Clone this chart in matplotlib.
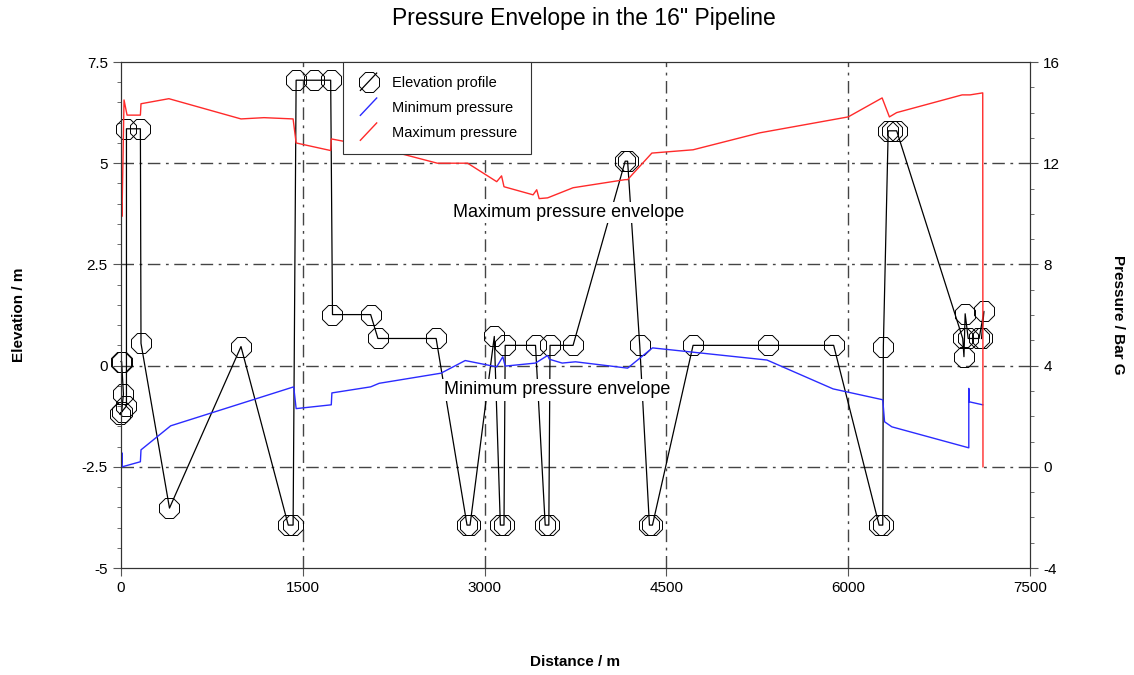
import numpy as np
import matplotlib
matplotlib.use("Agg")
import matplotlib.pyplot as plt
from matplotlib.lines import Line2D
from matplotlib.legend_handler import HandlerLine2D
from matplotlib.ticker import MultipleLocator, FixedLocator

plt.rcParams['font.family'] = ['Liberation Sans', 'DejaVu Sans']
plt.rcParams['axes.unicode_minus'] = False

# ── data ───────────────────────────────────────────────────────────────────
elev_dist = [0, 5, 20, 5, -10, 45, 45, 160, 165, 400, 990, 1380, 1420, 1445,
             1590, 1730, 1745, 2060, 2120, 2600, 2855, 2880, 3080, 3130, 3160,
             3170, 3420, 3500, 3530, 3540, 3730, 4160, 4180, 4280, 4360, 4385,
             4720, 5340, 5880, 6255, 6285, 6290, 6330, 6360, 6400, 6945, 6955,
             6965, 6990, 7080, 7120, 7100]
elev = [0.1, 0.1, -0.7, -1.15, -1.2, -1.0, 5.85, 5.85, 0.55, -3.52, 0.47,
        -3.94, -3.94, 7.05, 7.05, 7.05, 1.26, 1.26, 0.67, 0.67, -3.94, -3.94,
        0.72, -3.94, -3.94, 0.5, 0.5, -3.94, -3.94, 0.5, 0.5, 5.05, 5.05, 0.5,
        -3.94, -3.94, 0.5, 0.5, 0.5, -3.94, -3.94, 0.47, 5.8, 5.8, 5.8, 0.67,
        0.22, 1.28, 0.67, 0.67, 1.34, 0.67]

pmax_dist = [0, 8, 25, 50, 160, 165, 395, 990, 1180, 1420, 1445, 1730, 1735,
             2130, 2610, 2860, 3100, 3140, 3160, 3400, 3430, 3450, 3520, 3730,
             4160, 4180, 4380, 4720, 5270, 6000, 6280, 6340, 6400, 6940, 7005,
             7110, 7112]
pmax = [10.75, 9.9, 14.5, 13.9, 13.9, 14.35, 14.55, 13.75, 13.8, 13.75, 12.8,
        12.5, 12.96, 12.6, 12.0, 12.0, 11.27, 11.5, 11.07, 10.75, 10.95, 10.6,
        10.63, 11.03, 11.35, 11.35, 12.4, 12.53, 13.2, 13.83, 14.58, 13.83,
        14.0, 14.7, 14.7, 14.78, 0.0]

pmin_dist = [0, 8, 10, 160, 165, 410, 1425, 1445, 1735, 1740, 2060, 2130, 2640,
             2840, 3100, 3150, 3170, 3420, 3520, 3535, 3640, 3750, 4180, 4385,
             5330, 5875, 6285, 6300, 6360, 6995, 6995, 6998, 7110]
pmin = [-0.2, 0.55, 0.0, 0.2, 0.67, 1.62, 3.16, 2.3, 2.45, 2.92, 3.16, 3.3,
        3.7, 4.2, 3.95, 4.35, 3.98, 4.1, 4.4, 4.25, 4.1, 4.15, 3.9, 4.7, 4.22,
        3.08, 2.65, 1.78, 1.58, 0.75, 3.1, 2.57, 2.45]


class DiagHandler(HandlerLine2D):
    """Legend handle drawn as a short diagonal stroke (with optional marker)."""
    def create_artists(self, legend, orig_handle, xdescent, ydescent,
                       width, height, fontsize, trans):
        x0 = -xdescent + width * 0.15
        x1 = -xdescent + width * 0.85
        y0 = -ydescent - height * 0.35
        y1 = -ydescent + height * 1.35
        line = Line2D([x0, x1], [y0, y1], color=orig_handle.get_color(),
                      lw=orig_handle.get_linewidth())
        line.set_transform(trans)
        arts = [line]
        if orig_handle.get_marker() not in (None, "None", ""):
            mk = Line2D([(x0 + x1) / 2], [(y0 + y1) / 2], linestyle="none",
                        marker=orig_handle.get_marker(),
                        markersize=orig_handle.get_markersize(),
                        markerfacecolor="none",
                        markeredgecolor=orig_handle.get_markeredgecolor(),
                        markeredgewidth=orig_handle.get_markeredgewidth())
            mk.set_transform(trans)
            arts.append(mk)
        return arts


fig = plt.figure(figsize=(11.34, 6.75), dpi=100)
ax = fig.add_axes([121 / 1134, 1 - 568 / 675, 909 / 1134, 506 / 675])
ax2 = ax.twinx()

# ── grid (dash-dot, interior only) ─────────────────────────────────────────
for xv in [1500, 3000, 4500, 6000]:
    ax.axvline(xv, color="#444444", lw=1.0, ls=(0, (9, 4, 2, 4)), zorder=0)
for yv in [-2.5, 0, 2.5, 5]:
    ax.axhline(yv, color="#444444", lw=1.0, ls=(0, (9, 4, 2, 4)), zorder=0)

el_line, = ax.plot(elev_dist, elev, color="black", lw=0.9, marker="8",
                   markersize=15, markerfacecolor="none",
                   markeredgecolor="black", markeredgewidth=0.7,
                   clip_on=False, zorder=3, label="Elevation profile")

mn_line, = ax2.plot(pmin_dist, pmin, color="#2b2bff", lw=1.0,
                    label="Minimum pressure")
mx_line, = ax2.plot(pmax_dist, pmax, color="#ff2a2a", lw=1.0,
                    label="Maximum pressure")

ax.set_xlim(0, 7500)
ax.set_ylim(-5, 7.5)
ax2.set_ylim(-4, 16)

ax.xaxis.set_major_locator(FixedLocator([0, 1500, 3000, 4500, 6000, 7500]))
ax.yaxis.set_major_locator(MultipleLocator(2.5))
ax.yaxis.set_minor_locator(MultipleLocator(0.5))
ax2.yaxis.set_major_locator(MultipleLocator(4))
ax2.yaxis.set_minor_locator(MultipleLocator(1))
ax.yaxis.set_major_formatter(plt.FuncFormatter(lambda v, p: f"{v:g}"))

ax.tick_params(axis="both", which="major", direction="out", length=6,
               labelsize=11, color="#555555")
ax.tick_params(axis="both", which="minor", direction="out", length=3,
               color="#555555")
ax2.tick_params(axis="y", which="major", direction="out", length=6,
                labelsize=11, color="#555555")
ax2.tick_params(axis="y", which="minor", direction="out", length=3,
                color="#555555")

for sp in ax.spines.values():
    sp.set_color("#333333")
for sp in ax2.spines.values():
    sp.set_color("#333333")

# axis titles placed at the reference positions
fig.text(575 / 1134, 1 - 662 / 675, "Distance / m", fontsize=11,
         fontweight="bold", ha="center", va="center")
fig.text(19 / 1134, 1 - 315 / 675, "Elevation / m", fontsize=11,
         fontweight="bold", ha="center", va="center", rotation=90)
fig.text(1118 / 1134, 1 - 315 / 675, "Pressure / Bar G", fontsize=11,
         fontweight="bold", ha="center", va="center", rotation=-90)
fig.text(584 / 1134, 1 - 18 / 675, "Pressure Envelope in the 16\" Pipeline",
         fontsize=16.5, ha="center", va="center")

# ── labels on the envelopes ────────────────────────────────────────────────
box = dict(facecolor="white", edgecolor="none", pad=1.5)
ax2.text(3690, 3.79, "Maximum pressure envelope", transform=ax.transData,
         ha="center", va="center", fontsize=13, bbox=box, zorder=10)
ax2.text(3600, -0.6, "Minimum pressure envelope", transform=ax.transData,
         ha="center", va="center", fontsize=13, bbox=box, zorder=10)

leg = ax2.legend([el_line, mn_line, mx_line],
                 ["Elevation profile", "Minimum pressure", "Maximum pressure"],
                 handler_map={Line2D: DiagHandler()},
                 loc="upper left", bbox_to_anchor=(222 / 909, 1.0),
                 borderaxespad=0, fontsize=10.5, fancybox=False,
                 framealpha=1, edgecolor="#333333", labelspacing=0.75,
                 handlelength=1.6, handletextpad=0.8, borderpad=0.95)
leg.get_frame().set_linewidth(0.8)
leg.set_zorder(20)

fig.savefig("out.png", dpi=100)
